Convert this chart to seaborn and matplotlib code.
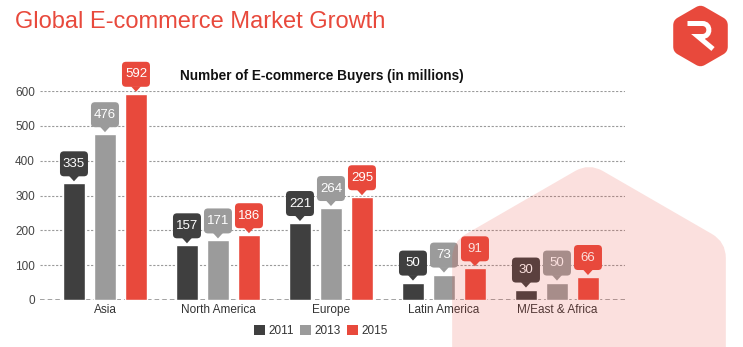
import numpy as np
import pandas as pd
import matplotlib
matplotlib.use("Agg")
import matplotlib.pyplot as plt
import seaborn as sns
from matplotlib.path import Path
from matplotlib.patches import PathPatch, FancyBboxPatch, Polygon, Patch
from matplotlib.transforms import ScaledTranslation, IdentityTransform

# Data: e-commerce buyers (millions) by region
regions = ["Asia", "North America", "Europe", "Latin America", "M/East & Africa"]
years = ["2011", "2013", "2015"]
buyers_2011 = [335, 157, 221, 50, 30]
buyers_2013 = [476, 171, 264, 73, 50]
buyers_2015 = [592, 186, 295, 91, 66]
y_ticks = [0, 100, 200, 300, 400, 500, 600]

RED = "#e8493c"
palette = ["#3f3f3f", "#9b9b9b", RED]

df = pd.DataFrame({
    "region": regions * 3,
    "year": np.repeat(years, len(regions)),
    "buyers": buyers_2011 + buyers_2013 + buyers_2015,
})

sns.set_theme(style="white")
plt.rcParams["font.family"] = ["Liberation Sans", "DejaVu Sans"]

W, H = 743, 347
fig = plt.figure(figsize=(W / 100, H / 100), dpi=100)
ax = fig.add_axes([40 / W, 1 - 300 / H, 585 / W, 209 / H])


def rounded_path(pts, r):
    """Closed polygon path with rounded corners (quadratic curves)."""
    pts = np.asarray(pts, float)
    n = len(pts)
    verts, codes = [], []
    for k in range(n):
        p0, p1, p2 = pts[k - 1], pts[k], pts[(k + 1) % n]
        d0 = (p0 - p1) / np.hypot(*(p0 - p1))
        d2 = (p2 - p1) / np.hypot(*(p2 - p1))
        a, b = p1 + d0 * r, p1 + d2 * r
        verts.append(a)
        codes.append(Path.MOVETO if k == 0 else Path.LINETO)
        verts += [p1, b]
        codes += [Path.CURVE3, Path.CURVE3]
    verts.append(verts[0])
    codes.append(Path.CLOSEPOLY)
    return Path(verts, codes)


def hexagon(cx, cy, radius):
    ang = np.deg2rad([90, 150, 210, 270, 330, 30])
    return np.column_stack([cx + radius * np.cos(ang), cy + radius * np.sin(ang)])


sns.barplot(data=df, x="region", y="buyers", hue="year", palette=palette,
            width=0.823, gap=0.29, saturation=1, ax=ax, legend=False, zorder=3)

ax.set_xlim(-0.575, 4.602)
ax.set_ylim(0, 600)
ax.set_yticks(y_ticks)
ax.set_xlabel("")
ax.set_ylabel("")
for s in ax.spines.values():
    s.set_visible(False)
ax.yaxis.grid(True, linestyle=(0, (2, 1.5)), color="#9a9a9a", lw=0.8)
ax.xaxis.grid(False)
ax.set_axisbelow(True)
ax.axhline(0, color="#8a8a8a", ls=(0, (3, 2)), lw=1.1, zorder=2)
ax.tick_params(axis="y", length=0, pad=3.6, labelsize=8.5, labelcolor="#444444")
ax.tick_params(axis="x", length=0, pad=3, labelsize=8.5, labelcolor="#333333")

# Value callouts above each bar
series = [buyers_2011, buyers_2013, buyers_2015]
for container, vals, col in zip(ax.containers, series, palette):
    for bar, v in zip(container, vals):
        x = bar.get_x() + bar.get_width() / 2
        tr = ScaledTranslation(x, v, ax.transData)
        box = FancyBboxPatch((-14, 7), 28, 25, boxstyle="round,pad=0,rounding_size=4",
                             transform=tr, fc=col, ec="none", clip_on=False, zorder=4)
        tip = Polygon([(-5, 7.5), (5, 7.5), (0, 2)], closed=True, transform=tr,
                      fc=col, ec="none", clip_on=False, zorder=4)
        ax.add_patch(box)
        ax.add_patch(tip)
        ax.text(0, 19.5, str(v), transform=tr, ha="center", va="center",
                color="white", fontsize=9.5, zorder=5, clip_on=False)

# Titles
fig.text(15 / W, 1 - 28 / H, "Global E-commerce Market Growth", color=RED,
         fontsize=17, va="baseline", ha="left")
fig.text(321.5 / W, 1 - 80 / H, "Number of E-commerce Buyers (in millions)",
         color="#111111", fontsize=9.8, fontweight="bold", va="baseline", ha="center")

# Legend
handles = [Patch(fc=c, ec="none", label=y) for c, y in zip(palette, years)]
fig.legend(handles=handles, loc="center", bbox_to_anchor=(321 / W, 1 - 331 / H),
           ncol=3, frameon=False, fontsize=8.5, handlelength=0.9, handleheight=0.9,
           handletextpad=0.35, columnspacing=0.5, labelcolor="#333333")

# Translucent hexagon backdrop in the lower right
overlay = PathPatch(rounded_path(hexagon(589, 347 - 321, 158), 16),
                    transform=IdentityTransform(), fc=RED, ec="none", alpha=0.17, zorder=10)
fig.add_artist(overlay)

# Logo: red hexagon with a white stylised R
lx, ly = 700.5, 347 - 36
logo = PathPatch(rounded_path(hexagon(lx, ly, 31.5), 5),
                 transform=IdentityTransform(), fc=RED, ec="none", zorder=11)
fig.add_artist(logo)
r_verts = [(-13, 12.5), (2, 12.5), (10.5, 12.5), (10.5, -0.5), (2, -0.5),
           (-2.5, -0.5), (12.5, -13)]
r_codes = [Path.MOVETO, Path.LINETO, Path.CURVE4, Path.CURVE4, Path.CURVE4,
           Path.LINETO, Path.LINETO]
r_path = Path([(lx + a, ly + b) for a, b in r_verts], r_codes)
fig.add_artist(PathPatch(r_path, transform=IdentityTransform(), fc="none", ec="white",
                         lw=3.6, capstyle="butt", joinstyle="miter", zorder=12))

fig.savefig("out.png", dpi=100)
